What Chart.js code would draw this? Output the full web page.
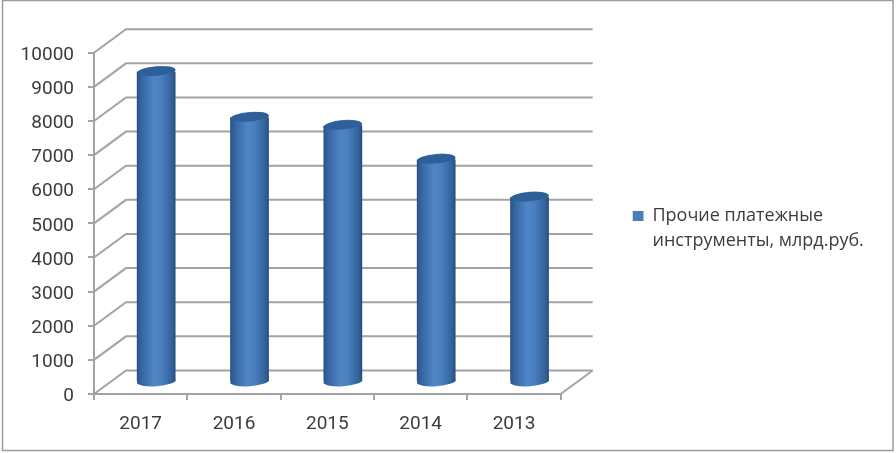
<!DOCTYPE html>
<html><head><meta charset="utf-8">
<style>html,body{margin:0;padding:0;background:#fff}canvas{display:block}</style>
<script src="https://cdn.jsdelivr.net/npm/chart.js@4"></script>
</head><body>
<canvas id="c" width="896" height="453"></canvas>
<script>
const categories = ['2017','2016','2015','2014','2013'];
const seriesName = ['Прочие платежные','инструменты, млрд.руб.'];
const values = [9100,7760,7520,6530,5420];
const yMax = 10000, yStep = 1000;

const DX = 32, DY = 23.5;      // depth of the 3-D box
const GRID = '#a3a3a3', TXT = '#3c3c3c';
const BAR_PCT = 0.415;

function barGradient(ctx, cx, w){
  const g = ctx.createLinearGradient(cx-w/2,0,cx+w/2,0);
  g.addColorStop(0,'#285182');
  g.addColorStop(0.10,'#33649f');
  g.addColorStop(0.45,'#4f86c6');
  g.addColorStop(0.62,'#4a7fbe');
  g.addColorStop(0.90,'#33639c');
  g.addColorStop(1,'#264d7c');
  return g;
}

const box3d = {
  id:'box3d',
  beforeLayout(chart){
    const lg = chart.legend;
    if(lg && !lg._wrapped){
      const f = lg.fit;
      lg.fit = function(){ f.call(this); this.width = 896-560.7; };
      lg._wrapped = true;
    }
  },
  afterLayout(chart){
    chart.legend.left = 632.5;
    chart.legend.top = 207;
  },
  beforeDraw(chart){
    const c = chart.ctx;
    c.save();
    c.fillStyle='#fff'; c.fillRect(0,0,896,453);
    c.strokeStyle='#9c9c9c'; c.lineWidth=1.5;
    c.strokeRect(2.5,0.5,890.5,450);
    c.restore();
  },
  beforeDatasetsDraw(chart){
    const c = chart.ctx, y = chart.scales.y, a = chart.chartArea;
    c.save();
    c.strokeStyle = GRID; c.lineWidth = 2;
    y.ticks.forEach(t=>{
      const p = y.getPixelForValue(t.value);
      c.beginPath();
      c.moveTo(a.left,p);
      c.lineTo(a.left+DX,p-DY);
      c.lineTo(a.right+DX,p-DY);
      c.stroke();
    });
    const p0 = y.getPixelForValue(0);
    c.beginPath(); c.moveTo(a.right,p0); c.lineTo(a.right+DX,p0-DY); c.stroke();
    c.restore();

    c.save();
    c.translate(DX/2-0.5,-DY/2);
    const meta = chart.getDatasetMeta(0);
    meta.data.forEach(b=>{
      const w = b.width;
      c.fillStyle = barGradient(c,b.x,w);
      c.beginPath();
      c.ellipse(b.x,b.base,w/2,5,-0.07,0,Math.PI*2);
      c.fill();
    });
  },
  afterDatasetsDraw(chart){
    const c = chart.ctx;
    const meta = chart.getDatasetMeta(0);
    meta.data.forEach(b=>{
      const w = b.width;
      c.fillStyle = barGradient(c,b.x,w);
      c.beginPath();
      c.ellipse(b.x,b.y,w/2,5.5,-0.09,0,Math.PI*2);
      c.fill();
      c.fillStyle = '#2e5f98';
      c.beginPath();
      c.ellipse(b.x,b.y-0.5,w/2-1,4.5,-0.09,0,Math.PI*2);
      c.fill();
    });
    c.restore();
  }
};

new Chart(document.getElementById('c'),{
  type:'bar',
  plugins:[box3d],
  data:{
    labels:categories,
    datasets:[{
      label:seriesName.join(' '),
      data:values,
      borderWidth:0,
      clip:false,
      barPercentage:BAR_PCT,
      categoryPercentage:1,
      backgroundColor(ctx){
        const ch = ctx.chart;
        if(!ch.scales.x || !ch.chartArea) return '#4f81bd';
        const w = ch.scales.x.width/categories.length*BAR_PCT;
        return barGradient(ch.ctx, ch.scales.x.getPixelForValue(ctx.dataIndex), w);
      }
    }]
  },
  options:{
    responsive:false,
    animation:false,
    devicePixelRatio:1,
    layout:{padding:{left:0,right:0,top:52.7,bottom:0}},
    plugins:{
      tooltip:{enabled:false},
      title:{display:false},
      legend:{
        position:'right',
        align:'start',
        labels:{
          boxWidth:11,boxHeight:10,padding:0,
          color:TXT,
          font:{family:'"Open Sans"',size:18,lineHeight:1.39},
          generateLabels(){
            return [{text:seriesName,fillStyle:'#4a7ebb',strokeStyle:'#4a7ebb',lineWidth:0,datasetIndex:0,fontColor:TXT}];
          }
        }
      }
    },
    scales:{
      x:{
        offset:true,
        afterFit(s){s.height=59;},
        border:{color:GRID,width:2},
        grid:{drawOnChartArea:false,color:GRID,lineWidth:2,tickLength:6,offset:true},
        ticks:{color:TXT,font:{family:'Roboto',size:19},padding:13,maxRotation:0}
      },
      y:{
        min:0,max:yMax,
        afterFit(s){
          s.width=94;
          if(!s._shifted){
            const d = s.drawLabels;
            s.drawLabels = function(area){
              this.ctx.save(); this.ctx.translate(0,2.5);
              d.call(this,area);
              this.ctx.restore();
            };
            s._shifted = true;
          }
        },
        border:{color:GRID,width:2},
        grid:{drawOnChartArea:false,color:GRID,lineWidth:2,tickLength:6},
        ticks:{stepSize:yStep,autoSkip:false,color:TXT,font:{family:'Roboto',size:19},padding:14,
          callback(v){return String(v);}}
      }
    }
  }
});
</script>
</body></html>
